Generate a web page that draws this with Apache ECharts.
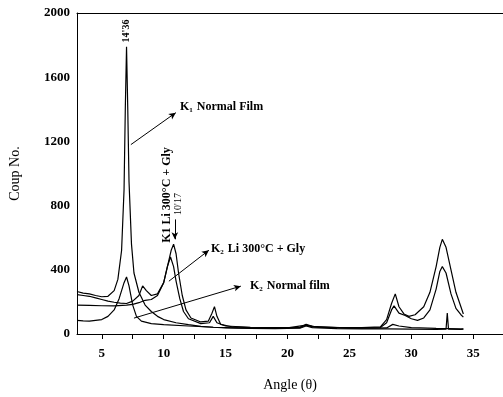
<!DOCTYPE html>
<html>
<head>
<meta charset="utf-8">
<script src="https://cdn.jsdelivr.net/npm/echarts@6/dist/echarts.min.js"></script>
<style>
html, body { margin: 0; padding: 0; background: #fff; }
#main { width: 503px; height: 397px; }
</style>
</head>
<body>
<div id="main"></div>
<script>
// x ticks / labels
var xTicks = [5, 7.5, 10, 12.5, 15, 17.5, 20, 22.5, 25, 27.5, 30, 32.5, 35];
var xLabels = [5, 10, 15, 20, 25, 30, 35];

// K1 normal film
var k1Normal = [[3,265],[3.5,255],[4,250],[4.5,240],[5,232],[5.5,235],[6,270],[6.3,340],[6.6,520],[6.8,900],[6.9,1400],[7.0,1790],[7.1,1400],[7.2,950],[7.4,560],[7.6,380],[8,260],[8.5,180],[9,140],[9.5,110],[10,90],[11,70],[12,58],[13,48],[14,42],[15,38],[17,35],[19,34],[21,36],[21.5,50],[22,40],[24,33],[26,32],[28,32],[30,30],[32,28],[32.8,30],[32.9,130],[33.0,30],[34,28],[34.2,30]];

// K2 normal film
var k2Normal = [[3,85],[3.5,82],[4,80],[4.5,85],[5,90],[5.5,110],[6,150],[6.4,220],[6.8,320],[7.0,355],[7.2,300],[7.5,180],[7.8,110],[8.2,80],[9,65],[10,58],[12,50],[14,42],[16,38],[18,36],[20,38],[21.5,55],[22.5,42],[25,36],[27,36],[28,38],[28.5,60],[29,50],[30,40],[32,35],[34,32],[34.2,32]];

// K1 Li 300°C + Gly
var k1Li = [[3,245],[3.5,240],[4,235],[4.5,225],[5,215],[5.5,205],[6,198],[6.5,192],[7,190],[7.5,205],[8,240],[8.3,300],[8.6,270],[9,240],[9.5,250],[10,320],[10.3,420],[10.6,520],[10.8,560],[11,500],[11.2,380],[11.5,240],[11.8,150],[12.2,100],[13,75],[13.6,80],[13.9,130],[14.1,170],[14.3,110],[14.6,60],[15.5,45],[17,40],[19,38],[21,42],[21.5,60],[22,48],[24,40],[26,40],[27.5,45],[28,90],[28.4,190],[28.7,250],[29,170],[29.4,125],[29.8,110],[30.3,120],[31,170],[31.5,260],[32,420],[32.3,540],[32.5,590],[32.8,540],[33.2,400],[33.6,260],[34,170],[34.2,125]];

// K2 Li 300°C + Gly
var k2Li = [[3,180],[4,178],[5,176],[6,175],[7,180],[7.5,185],[8,195],[8.5,210],[9,215],[9.5,240],[10,320],[10.3,420],[10.55,480],[10.8,420],[11,330],[11.3,220],[11.6,140],[12,95],[13,65],[13.7,70],[14.0,110],[14.3,70],[15,50],[17,42],[19,40],[21,40],[21.5,55],[22,44],[25,38],[27.5,40],[28,70],[28.4,150],[28.6,175],[29,130],[29.5,115],[30,95],[30.5,85],[31,100],[31.5,150],[32,280],[32.3,390],[32.5,420],[32.8,380],[33.2,250],[33.6,160],[34,120],[34.2,105]];

// annotation arrows (data coords)
var arrows = [
	[[7.35,1180],[10.98,1379]],
	[[10.42,329],[13.65,522]],
	[[7.6,99],[16.23,298]],
	[[10.9,714],[10.9,590]]
];

var serif = 'Liberation Serif';
var myChart = echarts.init(document.getElementById('main'));

function line(name, data) {
	return {
		name: name,
		type: 'line',
		data: data,
		showSymbol: false,
		symbol: 'none',
		lineStyle: { color: '#000', width: 1.2 },
		z: 3
	};
}

var series = [
	line('K1 Normal Film', k1Normal),
	line('K2 Normal film', k2Normal),
	line('K1 Li 300°C + Gly', k1Li),
	line('K2 Li 300°C + Gly', k2Li)
];
series[0].markLine = {
	silent: true,
	symbol: ['none', 'arrow'],
	symbolSize: [5, 7],
	lineStyle: { color: '#000', width: 1, type: 'solid' },
	label: { show: false },
	data: arrows.map(function (a) {
		return [{ coord: a[0] }, { coord: a[1] }];
	})
};

var subRich = {
	b: { fontFamily: serif, fontWeight: 'bold', fontSize: 12, fill: '#000' },
	s: { fontFamily: serif, fontWeight: 'bold', fontSize: 7, fill: '#000', padding: [7, 1, 0, 0] }
};

option = {
	animation: false,
	grid: { left: 76, right: 0, top: 13, bottom: 62 },
	xAxis: [
		{
			type: 'value',
			min: 3,
			max: 37.4,
			name: 'Angle (θ)',
			nameLocation: 'middle',
			nameGap: 44,
			nameTextStyle: { fontFamily: serif, fontSize: 14, color: '#000' },
			axisLine: { lineStyle: { color: '#000', width: 1 } },
			axisTick: { show: true, length: 5, customValues: xTicks, lineStyle: { color: '#000' } },
			axisLabel: { customValues: xLabels, margin: 13, fontFamily: serif, fontWeight: 'bold', fontSize: 13, color: '#000' },
			splitLine: { show: false }
		},
		{
			type: 'value',
			position: 'top',
			min: 3,
			max: 37.4,
			axisLine: { show: true, lineStyle: { color: '#000', width: 1 } },
			axisTick: { show: false },
			axisLabel: { show: false },
			splitLine: { show: false }
		}
	],
	yAxis: {
		type: 'value',
		min: 0,
		max: 2000,
		interval: 400,
		name: 'Coup No.',
		nameLocation: 'middle',
		nameGap: 55,
		nameTextStyle: { fontFamily: serif, fontSize: 14, color: '#000' },
		axisLine: { show: true, lineStyle: { color: '#000', width: 1 } },
		axisTick: { show: false },
		axisLabel: {
			margin: 7, fontFamily: serif, fontWeight: 'bold', fontSize: 13, color: '#000',
			formatter: function (v) { return String(v); }
		},
		splitLine: { show: false }
	},
	graphic: [
		{ type: 'text', left: 180, top: 101, style: { rich: subRich, text: '{b|K}{s|1}{b| Normal Film}' } },
		{ type: 'text', left: 211, top: 243, style: { rich: subRich, text: '{b|K}{s|2}{b| Li 300°C + Gly}' } },
		{ type: 'text', left: 250, top: 280, style: { rich: subRich, text: '{b|K}{s|2}{b| Normal film}' } },
		{ type: 'text', x: 167, y: 195, rotation: Math.PI / 2,
			style: { text: 'K1 Li 300°C + Gly', fontFamily: serif, fontWeight: 'bold', fontSize: 12, fill: '#000', align: 'center', verticalAlign: 'middle' } },
		{ type: 'text', x: 178, y: 204, rotation: Math.PI / 2,
			style: { text: "10'17", fontFamily: serif, fontSize: 10, fill: '#000', align: 'center', verticalAlign: 'middle' } },
		{ type: 'text', x: 126, y: 31, rotation: Math.PI / 2,
			style: { text: "14'36", fontFamily: serif, fontWeight: 'bold', fontSize: 10, fill: '#000', align: 'center', verticalAlign: 'middle' } }
	],
	series: series
};
myChart.setOption(option);
</script>
</body>
</html>
